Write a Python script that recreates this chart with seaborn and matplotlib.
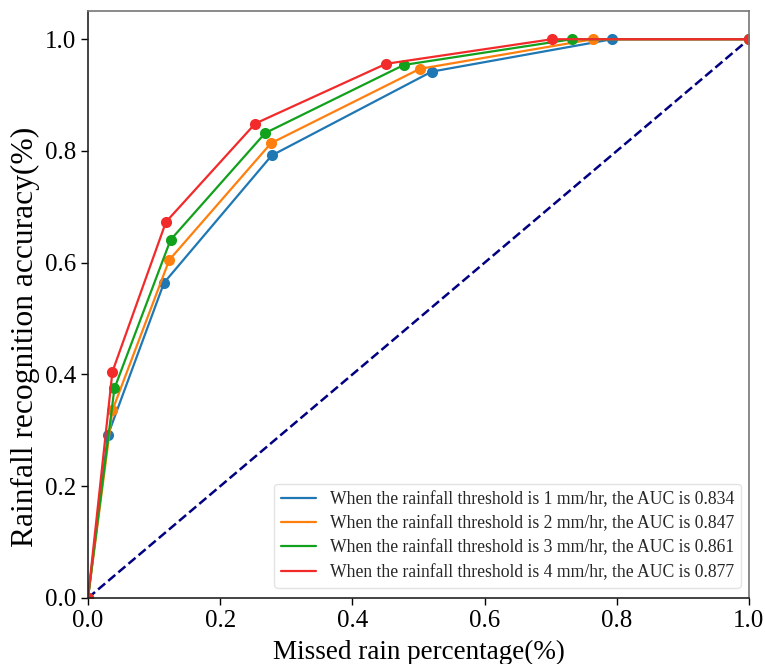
import matplotlib
matplotlib.use("Agg")
import matplotlib.pyplot as plt
from matplotlib.lines import Line2D
import numpy as np
import pandas as pd
import seaborn as sns

# ROC points for each rainfall threshold (false-alarm / missed rain rate vs. accuracy)
fpr_1mm = [0.0, 0.030, 0.115, 0.278, 0.520, 0.793, 1.0]
tpr_1mm = [0.0, 0.291, 0.564, 0.792, 0.942, 1.0, 1.0]
fpr_2mm = [0.0, 0.037, 0.123, 0.277, 0.502, 0.764, 1.0]
tpr_2mm = [0.0, 0.336, 0.605, 0.814, 0.947, 1.0, 1.0]
fpr_3mm = [0.0, 0.040, 0.125, 0.268, 0.478, 0.732, 1.0]
tpr_3mm = [0.0, 0.375, 0.641, 0.832, 0.954, 1.0, 1.0]
fpr_4mm = [0.0, 0.037, 0.118, 0.253, 0.451, 0.702, 1.0]
tpr_4mm = [0.0, 0.405, 0.673, 0.849, 0.956, 1.0, 1.0]

thresholds = [1, 2, 3, 4]
auc_values = [0.834, 0.847, 0.861, 0.877]
colors = ["#1f77b4", "#ff7f0e", "#12a11c", "#f22a2a"]

curves = [(fpr_1mm, tpr_1mm), (fpr_2mm, tpr_2mm), (fpr_3mm, tpr_3mm), (fpr_4mm, tpr_4mm)]
labels = [f"When the rainfall threshold is {t} mm/hr, the AUC is {a:.3f}"
          for t, a in zip(thresholds, auc_values)]

frames = []
for (fx, fy), lab in zip(curves, labels):
    frames.append(pd.DataFrame({"fpr": fx, "tpr": fy, "curve": lab}))
df = pd.concat(frames, ignore_index=True)

sns.set_theme(style="white")
plt.rcParams["font.family"] = ["Liberation Serif", "DejaVu Serif"]

fig = plt.figure(figsize=(7.65, 6.64), dpi=100)
ax = fig.add_axes([0.115, 0.0994, 0.864, 0.8836])

# chance diagonal
sns.lineplot(x=[0, 1], y=[0, 1], ax=ax, color="navy", linestyle="--", linewidth=1.8)

sns.lineplot(data=df, x="fpr", y="tpr", hue="curve", hue_order=labels,
             palette=colors, marker="o", markersize=8, markeredgewidth=0,
             linewidth=1.6, sort=False, estimator=None, ax=ax, legend=False)

ax.set_xlim(0, 1.0)
ax.set_ylim(0, 1.05)
ax.set_xticks(np.arange(0, 1.01, 0.2))
ax.set_yticks(np.arange(0, 1.01, 0.2))
ax.xaxis.set_major_formatter(matplotlib.ticker.FormatStrFormatter("%.1f"))
ax.yaxis.set_major_formatter(matplotlib.ticker.FormatStrFormatter("%.1f"))
ax.tick_params(axis="both", direction="out", length=5, width=1, labelsize=18,
               colors="black", left=True, bottom=True)
for side in ["left", "bottom"]:
    ax.spines[side].set_color("#222222")
    ax.spines[side].set_linewidth(1.2)
for side in ["top", "right"]:
    ax.spines[side].set_color("#777777")
    ax.spines[side].set_linewidth(1.2)

ax.set_xlabel("Missed rain percentage(%)", fontsize=19.5, color="black", labelpad=6)
ax.set_ylabel("Rainfall recognition accuracy(%)", fontsize=22.7, color="black")
ax.yaxis.set_label_coords(-0.073, 0.445)

handles = [Line2D([0], [0], color=c, linewidth=1.6) for c in colors]
ax.legend(handles, labels, loc="lower right", fontsize=12.7, frameon=True,
          edgecolor="#dddddd", fancybox=True, handlelength=2.0, handletextpad=0.75,
          borderpad=0.4, labelspacing=0.42, borderaxespad=0,
          bbox_to_anchor=(0.988, 0.017))

fig.savefig("out.png", dpi=100)
